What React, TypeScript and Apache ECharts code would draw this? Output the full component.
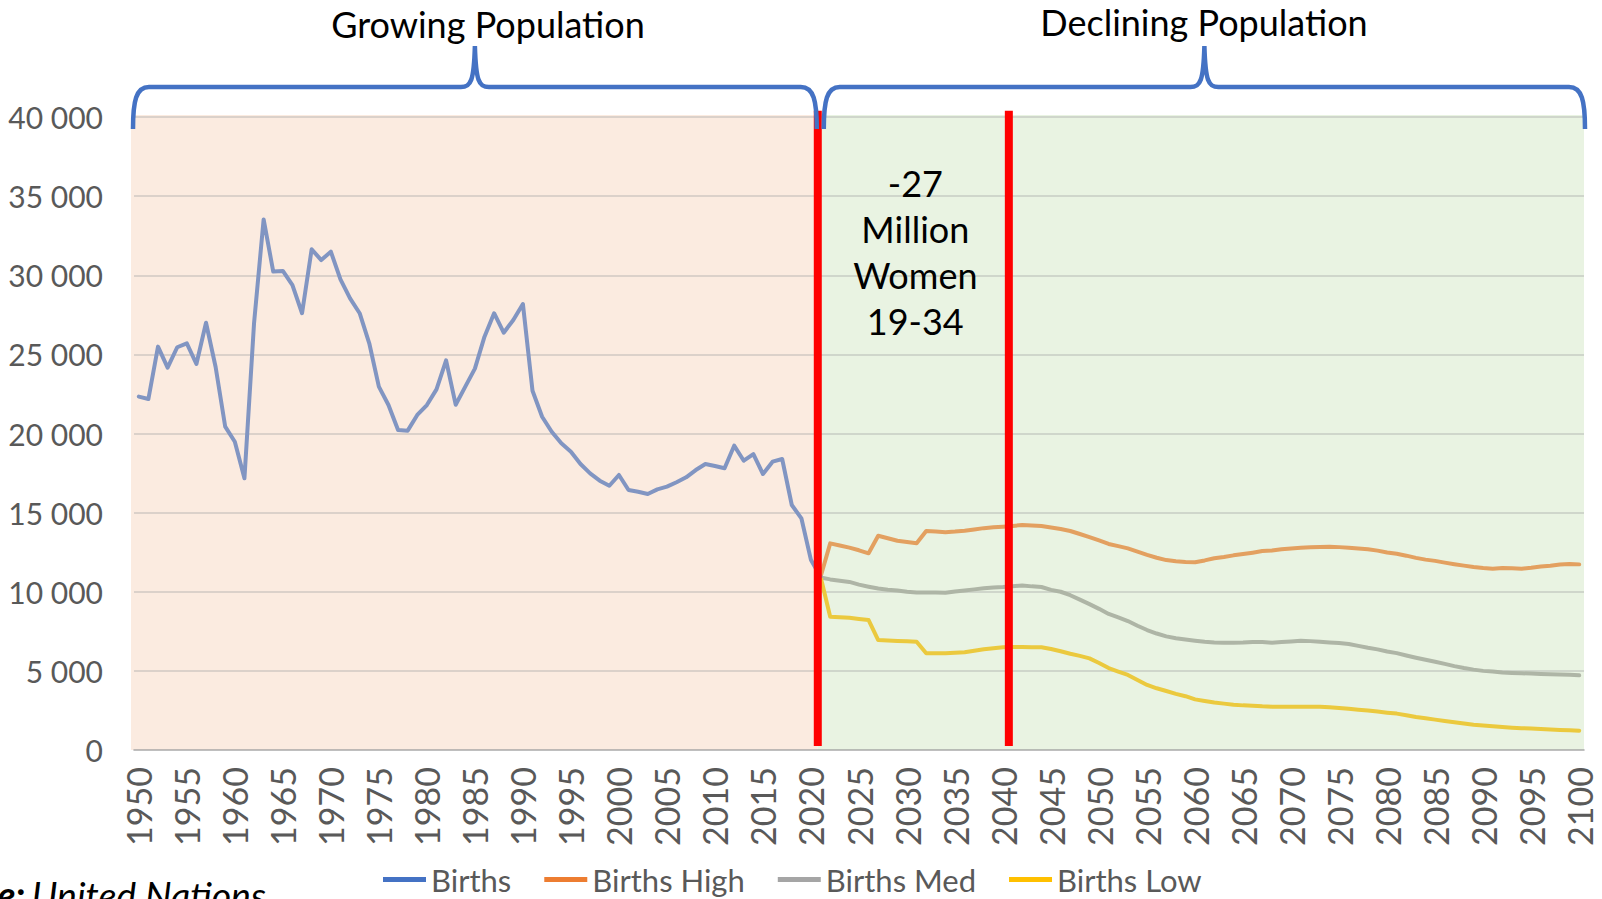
import React, { useEffect, useRef } from "react";
import * as echarts from "echarts";

// ---------- categories ----------
const FIRST_YEAR = 1950;
const LAST_YEAR = 2100;
const years: string[] = Array.from({ length: LAST_YEAR - FIRST_YEAR + 1 }, (_, i) => String(FIRST_YEAR + i));

// ---------- data ----------
const birthsStart = 1950;
const births = [
  22330, 22180, 25490, 24160, 25450, 25700, 24390, 27000, 24200, 20430,
  19480, 17170, 26960, 33530, 30230, 30270, 29380, 27600, 31640, 30960,
  31490, 29740, 28540, 27600, 25700, 22960, 21800, 20220, 20180, 21170,
  21800, 22790, 24620, 21820, 22960, 24100, 26120, 27600, 26370, 27170,
  28180, 22700, 21060, 20110, 19380, 18850, 18070, 17480, 17020, 16700,
  17380, 16430, 16320, 16180, 16470, 16640, 16920, 17230, 17690, 18070,
  17950, 17800, 19230, 18280, 18700, 17440, 18220, 18390, 15480, 14640,
  12000, 10950,
];

const projectionStart = 2021;
const birthsHigh = [
  10950, 13060, 12920, 12790, 12620, 12430, 13540, 13380, 13220, 13140,
  13060, 13840, 13800, 13760, 13800, 13860, 13940, 14020, 14070, 14110,
  14160, 14220, 14180, 14150, 14060, 13960, 13840, 13650, 13450, 13240,
  13020, 12880, 12740, 12540, 12330, 12150, 12000, 11930, 11880, 11860,
  11980, 12120, 12200, 12300, 12380, 12470, 12570, 12600, 12680, 12740,
  12780, 12810, 12830, 12850, 12820, 12780, 12740, 12690, 12600, 12480,
  12400, 12280, 12140, 12030, 11950, 11840, 11740, 11650, 11560, 11500,
  11460, 11500, 11480, 11460, 11520, 11600, 11640, 11720, 11760, 11730,
];
const birthsMed = [
  10900, 10780, 10700, 10620, 10450, 10320, 10200, 10120, 10080, 10000,
  9960, 9950, 9950, 9940, 10020, 10080, 10150, 10220, 10270, 10300,
  10350, 10400, 10340, 10300, 10120, 10000, 9780, 9500, 9220, 8920,
  8600, 8380, 8150, 7850, 7580, 7360, 7180, 7060, 6980, 6910,
  6840, 6800, 6780, 6780, 6790, 6830, 6820, 6780, 6820, 6860,
  6900, 6880, 6840, 6800, 6760, 6700, 6580, 6460, 6360, 6220,
  6120, 5970, 5830, 5700, 5580, 5440, 5300, 5180, 5080, 5000,
  4960, 4900, 4870, 4850, 4830, 4800, 4780, 4770, 4760, 4720,
];
const birthsLow = [
  10950, 8420, 8390, 8360, 8280, 8210, 6950, 6920, 6890, 6870,
  6840, 6110, 6110, 6110, 6140, 6180, 6270, 6360, 6430, 6490,
  6510, 6510, 6500, 6490, 6380, 6240, 6080, 5950, 5790, 5500,
  5180, 4960, 4740, 4420, 4110, 3900, 3730, 3550, 3400, 3200,
  3100, 3000, 2930, 2860, 2820, 2800, 2760, 2740, 2740, 2740,
  2740, 2740, 2740, 2700, 2660, 2600, 2550, 2500, 2430, 2360,
  2300, 2200, 2080, 2000, 1920, 1830, 1750, 1680, 1600, 1550,
  1500, 1450, 1410, 1380, 1360, 1330, 1300, 1270, 1250, 1220,
];

const seriesNames = ["Births", "Births High", "Births Med", "Births Low"];
const regionTitles = ["Growing Population", "Declining Population"];
const annotation = ["-27", "Million", "Women", "19-34"];
const sourceLabel = "Source:";
const sourceName = "United Nations";
// red divider lines sit between these category pairs
const dividerYears = [["2020", "2021"], ["2040", "2041"]];

const Y_MAX = 40000;
const Y_INTERVAL = 5000;

const pad = (start: number, values: number[]) =>
  years.map((y) => {
    const i = Number(y) - start;
    return i >= 0 && i < values.length ? values[i] : null;
  });

const FONT = "Lato";
const GREY_TEXT = "#595959";

export default function App() {
  const ref = useRef<HTMLDivElement>(null);
  useEffect(() => {
    const el = ref.current!;
    const chart = echarts.init(el, null, { renderer: "svg" });

    const lineColors = ["#8195C2", "#E3A060", "#AEB5A6", "#EBC93E"];
    const legendColors = ["#4472C4", "#ED7D31", "#A5A5A5", "#FFC000"];
    const datasets = [
      pad(birthsStart, births),
      pad(projectionStart, birthsHigh),
      pad(projectionStart, birthsMed),
      pad(projectionStart, birthsLow),
    ];

    const GRID = { left: 134, right: 18, top: 117, bottom: 149 };

    chart.setOption({
      animation: false,
      backgroundColor: "#ffffff",
      textStyle: { fontFamily: FONT },
      grid: GRID,
      legend: {
        left: 383,
        top: 864,
        padding: 0,
        itemGap: 33,
        itemWidth: 43,
        itemHeight: 5,
        icon: "rect",
        textStyle: { fontFamily: FONT, fontSize: 31, color: GREY_TEXT },
        data: seriesNames.map((n, i) => ({
          name: n,
          itemStyle: { color: legendColors[i] },
          lineStyle: { color: legendColors[i] },
        })),
      },
      xAxis: {
        type: "category",
        data: years,
        boundaryGap: true,
        axisLine: { show: true, lineStyle: { color: "rgba(160,160,160,0.5)", width: 2 } },
        axisTick: { show: false },
        axisLabel: {
          interval: 4,
          rotate: 90,
          margin: 17,
          fontFamily: FONT,
          fontSize: 34,
          color: GREY_TEXT,
        },
        splitLine: { show: false },
      },
      yAxis: {
        type: "value",
        min: 0,
        max: Y_MAX,
        interval: Y_INTERVAL,
        axisLine: { show: false },
        axisTick: { show: false },
        axisLabel: {
          margin: 31,
          fontFamily: FONT,
          fontSize: 30,
          color: GREY_TEXT,
          padding: [0, 0, 4, 0],
          formatter: (v: number) => String(v).replace(/\B(?=(\d{3})+(?!\d))/g, " "),
        },
        splitLine: { show: true, lineStyle: { color: "rgba(160,160,160,0.35)", width: 2 } },
      },
      series: seriesNames.map((n, i) => ({
        name: n,
        type: "line",
        data: datasets[i],
        showSymbol: false,
        symbol: "none",
        connectNulls: false,
        itemStyle: { color: legendColors[i] },
        lineStyle: { color: lineColors[i], width: 4, cap: "round", join: "round" },
        z: 3 + (i === 0 ? 1 : 0),
      })),
    });

    const toPx = (cat: string, v: number) =>
      chart.convertToPixel({ gridIndex: 0 }, [years.indexOf(cat), v]) as number[];

    const dividerX = dividerYears.map(([a, b], k) => (toPx(a, 0)[0] + toPx(b, 0)[0]) / 2 + (k === 0 ? 2 : 1));
    const band = toPx("1951", 0)[0] - toPx("1950", 0)[0];
    const plotLeft = toPx("1950", 0)[0] - band / 2 - 3;
    const plotRight = toPx("2100", 0)[0] + band / 2;
    const plotTop = toPx("1950", Y_MAX)[1] - 2;
    const plotBottom = toPx("1950", 0)[1];
    const seam = dividerX[0];

    const braceY = 87;
    const braceTip = 46;
    const braceEnd = 129;
    const bracePath = (x0: number, x1: number) => {
      const cx = (x0 + x1) / 2;
      const t = braceY;
      return (
        `M ${x0} ${braceEnd} C ${x0} ${t + 14} ${x0 + 3} ${t} ${x0 + 16} ${t} ` +
        `L ${cx - 14} ${t} C ${cx - 4} ${t} ${cx - 1} ${t - 6} ${cx} ${braceTip} ` +
        `C ${cx + 1} ${t - 6} ${cx + 4} ${t} ${cx + 14} ${t} ` +
        `L ${x1 - 16} ${t} C ${x1 - 3} ${t} ${x1} ${t + 14} ${x1} ${braceEnd}`
      );
    };
    const leftBrace = [plotLeft + 2, seam - 1];
    const rightBrace = [seam + 6, plotRight + 1];
    echarts.graphic.registerShape("braceLeft", echarts.graphic.extendPath(bracePath(leftBrace[0], leftBrace[1]), {}));
    echarts.graphic.registerShape("braceRight", echarts.graphic.extendPath(bracePath(rightBrace[0], rightBrace[1]), {}));

    const redTop = toPx("1950", 40400)[1];
    const redBottom = toPx("1950", 250)[1];
    const annX = (dividerX[0] + dividerX[1]) / 2 + 2;

    chart.setOption({
      graphic: [
        {
          type: "rect",
          z: -10,
          silent: true,
          shape: { x: plotLeft, y: plotTop, width: seam - plotLeft, height: plotBottom - plotTop },
          style: { fill: "#FBEBE0" },
        },
        {
          type: "rect",
          z: -10,
          silent: true,
          shape: { x: seam, y: plotTop, width: plotRight - seam, height: plotBottom - plotTop },
          style: { fill: "#E9F3E2" },
        },
        ...dividerX.map((x) => ({
          type: "line",
          z: 20,
          silent: true,
          shape: { x1: x, y1: redTop, x2: x, y2: redBottom },
          style: { stroke: "#FF0000", lineWidth: 8 },
        })),
        {
          type: "braceLeft",
          x: 0,
          y: 0,
          scaleX: 1,
          scaleY: 1,
          z: 20,
          style: { stroke: "#4472C4", lineWidth: 4.5, fill: "none" },
        },
        {
          type: "braceRight",
          x: 0,
          y: 0,
          scaleX: 1,
          scaleY: 1,
          z: 20,
          style: { stroke: "#4472C4", lineWidth: 4.5, fill: "none" },
        },
        {
          type: "text",
          z: 20,
          x: 488,
          y: 24,
          style: {
            text: regionTitles[0],
            fontFamily: FONT,
            fontSize: 36,
            fill: "#000000",
            textAlign: "center",
            textVerticalAlign: "middle",
          },
        },
        {
          type: "text",
          z: 20,
          x: 1204,
          y: 22,
          style: {
            text: regionTitles[1],
            fontFamily: FONT,
            fontSize: 36,
            fill: "#000000",
            textAlign: "center",
            textVerticalAlign: "middle",
          },
        },
        {
          type: "text",
          z: 20,
          x: annX,
          y: 252,
          style: {
            text: annotation.join("\n"),
            fontFamily: FONT,
            fontSize: 36,
            lineHeight: 46,
            fill: "#000000",
            textAlign: "center",
            textVerticalAlign: "middle",
          },
        },
        {
          type: "text",
          z: 20,
          x: 266,
          y: 894,
          style: {
            text: `{b|${sourceLabel}}  {i|${sourceName}}`,
            textAlign: "right",
            textVerticalAlign: "middle",
            rich: {
              b: { fontFamily: FONT, fontSize: 37.5, fontWeight: "bold", fontStyle: "italic", fill: "#000000" },
              i: { fontFamily: FONT, fontSize: 37.5, fontStyle: "italic", fill: "#000000" },
            },
          },
        },
      ],
    });

    return () => chart.dispose();
  }, []);
  return <div ref={ref} style={{ position: "absolute", left: 0, top: 0, width: 1602, height: 899 }} />;
}
